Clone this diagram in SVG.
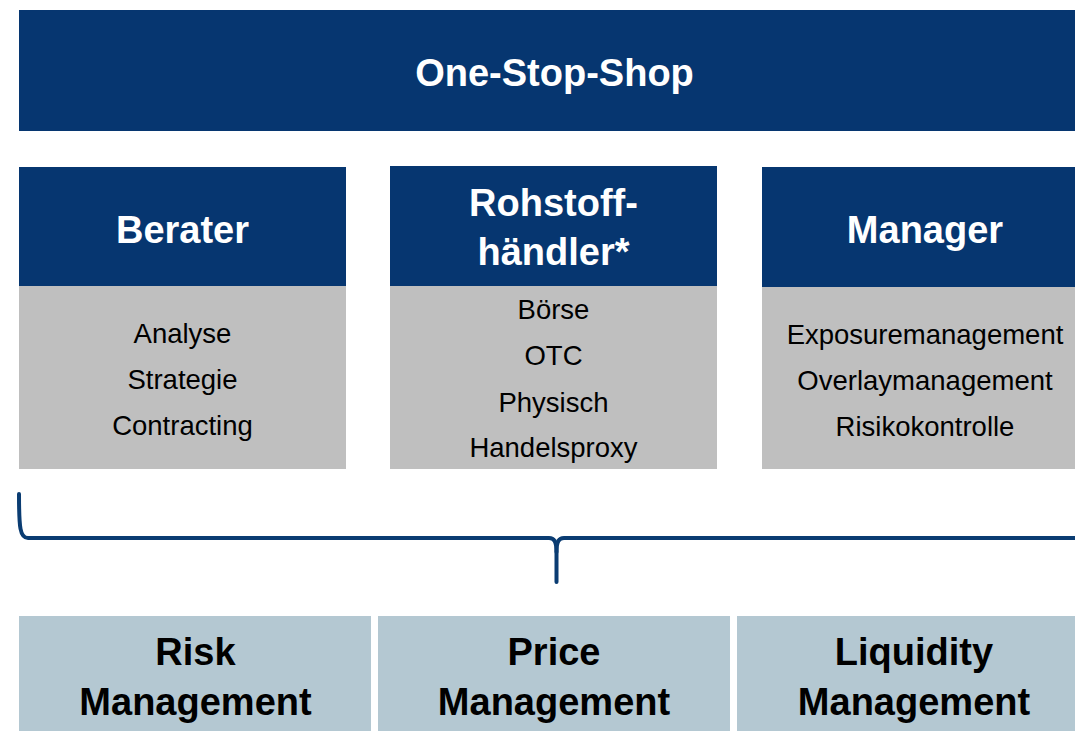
<svg xmlns="http://www.w3.org/2000/svg" width="1075" height="731" viewBox="0 0 1075 731">
<style>
.dark{fill:#063670}
.gray{fill:#bfbfbf}
.light{fill:#b4c8d2}
.h{font-family:"Liberation Sans",Arial,sans-serif;font-weight:bold;font-size:38px;fill:#ffffff;text-anchor:middle}
.b{font-family:"Liberation Sans",Arial,sans-serif;font-weight:bold;font-size:38px;fill:#000000;text-anchor:middle}
.t{font-family:"Liberation Sans",Arial,sans-serif;font-size:27.5px;fill:#000000;text-anchor:middle}
.brace{fill:none;stroke:#0a3c72;stroke-width:4;stroke-linecap:round;stroke-linejoin:round}
</style>
<rect width="1075" height="731" fill="#ffffff"/>
<g id="one-stop-shop">
<rect class="dark" x="19" y="10" width="1071" height="121"/>
<text class="h" x="554.5" y="86">One-Stop-Shop</text>
</g>
<g id="berater">
<rect class="dark" x="19" y="167" width="327" height="119"/>
<rect class="gray" x="19" y="286" width="327" height="183"/>
<text class="h" x="182.5" y="243">Berater</text>
<text class="t" x="182.5" y="343">Analyse</text>
<text class="t" x="182.5" y="389">Strategie</text>
<text class="t" x="182.5" y="435">Contracting</text>
</g>
<g id="rohstoffhaendler">
<rect class="dark" x="390" y="166" width="327" height="120"/>
<rect class="gray" x="390" y="286" width="327" height="183"/>
<text class="h" x="553.5" y="216">Rohstoff-</text>
<text class="h" x="553.5" y="265">händler*</text>
<text class="t" x="553.5" y="319">Börse</text>
<text class="t" x="553.5" y="365">OTC</text>
<text class="t" x="553.5" y="412">Physisch</text>
<text class="t" x="553.5" y="457">Handelsproxy</text>
</g>
<g id="manager">
<rect class="dark" x="762" y="167" width="327" height="120"/>
<rect class="gray" x="762" y="287" width="327" height="182"/>
<text class="h" x="925" y="243">Manager</text>
<text class="t" x="925" y="344">Exposuremanagement</text>
<text class="t" x="925" y="390">Overlaymanagement</text>
<text class="t" x="925" y="436">Risikokontrolle</text>
</g>
<g id="connectors">
<path class="brace" d="M19,494 C19,528 20,538 28,538 L549,538 C554,538 556.5,541 556.5,552 L556.5,582"/>
<path class="brace" d="M556.5,552 C556.5,541 559,538 564,538 L1076,538"/>
</g>
<g id="risk-management">
<rect class="light" x="19" y="616" width="352" height="115"/>
<text class="b" x="195.5" y="665">Risk</text>
<text class="b" x="195.5" y="715">Management</text>
</g>
<g id="price-management">
<rect class="light" x="378" y="616" width="352" height="115"/>
<text class="b" x="554" y="665">Price</text>
<text class="b" x="554" y="715">Management</text>
</g>
<g id="liquidity-management">
<rect class="light" x="737" y="616" width="354" height="115"/>
<text class="b" x="914" y="665">Liquidity</text>
<text class="b" x="914" y="715">Management</text>
</g>
</svg>
